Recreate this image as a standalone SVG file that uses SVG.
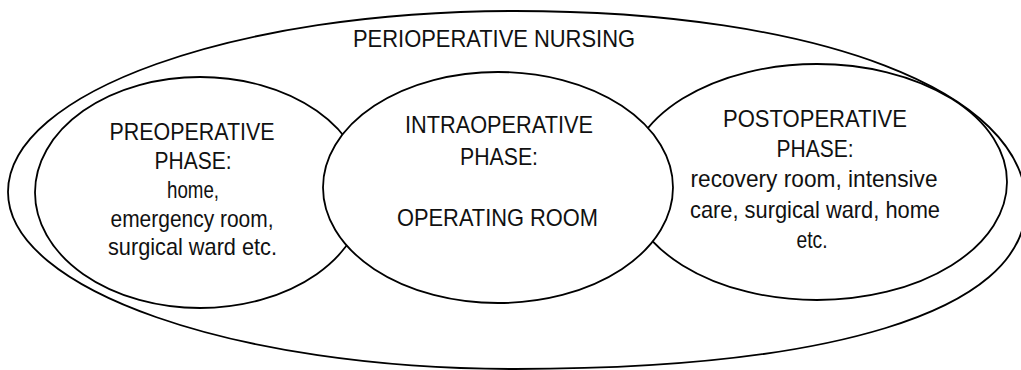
<svg xmlns="http://www.w3.org/2000/svg" width="1021" height="370" viewBox="0 0 1021 370">
  <style>
    .ring { fill: none; stroke: #000; stroke-width: 1.8; }
    .phase { fill: #fff; stroke: #000; stroke-width: 1.8; }
    text { font-family: "Liberation Sans", Arial, sans-serif; font-size: 24px; fill: #111; text-anchor: middle; }
  </style>
  <rect width="1021" height="370" fill="#fff"/>

  <!-- outer boundary: perioperative nursing -->
  <g id="perioperative">
    <path class="ring" d="M 8 192 C 8 92 235 11 515 11 C 820 11 1026 92 1026 205 C 1026 315 820 369 515 369 C 235 369 8 290 8 192 Z"/>
    <text x="494" y="47" textLength="282" lengthAdjust="spacingAndGlyphs">PERIOPERATIVE NURSING</text>
  </g>

  <!-- phase ellipses; the intraoperative one sits on top of its neighbours -->
  <g id="preoperative">
    <ellipse class="phase" cx="200" cy="192.5" rx="165" ry="115.5"/>
    <text x="192" y="140" textLength="165" lengthAdjust="spacingAndGlyphs">PREOPERATIVE</text>
    <text x="193" y="169" textLength="77" lengthAdjust="spacingAndGlyphs">PHASE:</text>
    <text x="193" y="198" textLength="52" lengthAdjust="spacingAndGlyphs">home,</text>
    <text x="192" y="227" textLength="163" lengthAdjust="spacingAndGlyphs">emergency room,</text>
    <text x="192.5" y="255" textLength="169" lengthAdjust="spacingAndGlyphs">surgical ward etc.</text>
  </g>

  <g id="postoperative">
    <ellipse class="phase" cx="817" cy="182" rx="190" ry="118"/>
    <text x="815" y="127" textLength="184" lengthAdjust="spacingAndGlyphs">POSTOPERATIVE</text>
    <text x="815" y="157" textLength="77" lengthAdjust="spacingAndGlyphs">PHASE:</text>
    <text x="814" y="187" textLength="247" lengthAdjust="spacingAndGlyphs">recovery room, intensive</text>
    <text x="815" y="218" textLength="250" lengthAdjust="spacingAndGlyphs">care, surgical ward, home</text>
    <text x="812" y="248" textLength="31" lengthAdjust="spacingAndGlyphs">etc.</text>
  </g>

  <g id="intraoperative">
    <ellipse class="phase" cx="498" cy="187.5" rx="175" ry="115.5"/>
    <text x="499" y="133" textLength="188" lengthAdjust="spacingAndGlyphs">INTRAOPERATIVE</text>
    <text x="499" y="165" textLength="78" lengthAdjust="spacingAndGlyphs">PHASE:</text>
    <text x="497.5" y="226" textLength="201" lengthAdjust="spacingAndGlyphs">OPERATING ROOM</text>
  </g>

  <g id="connectors"></g>
</svg>
